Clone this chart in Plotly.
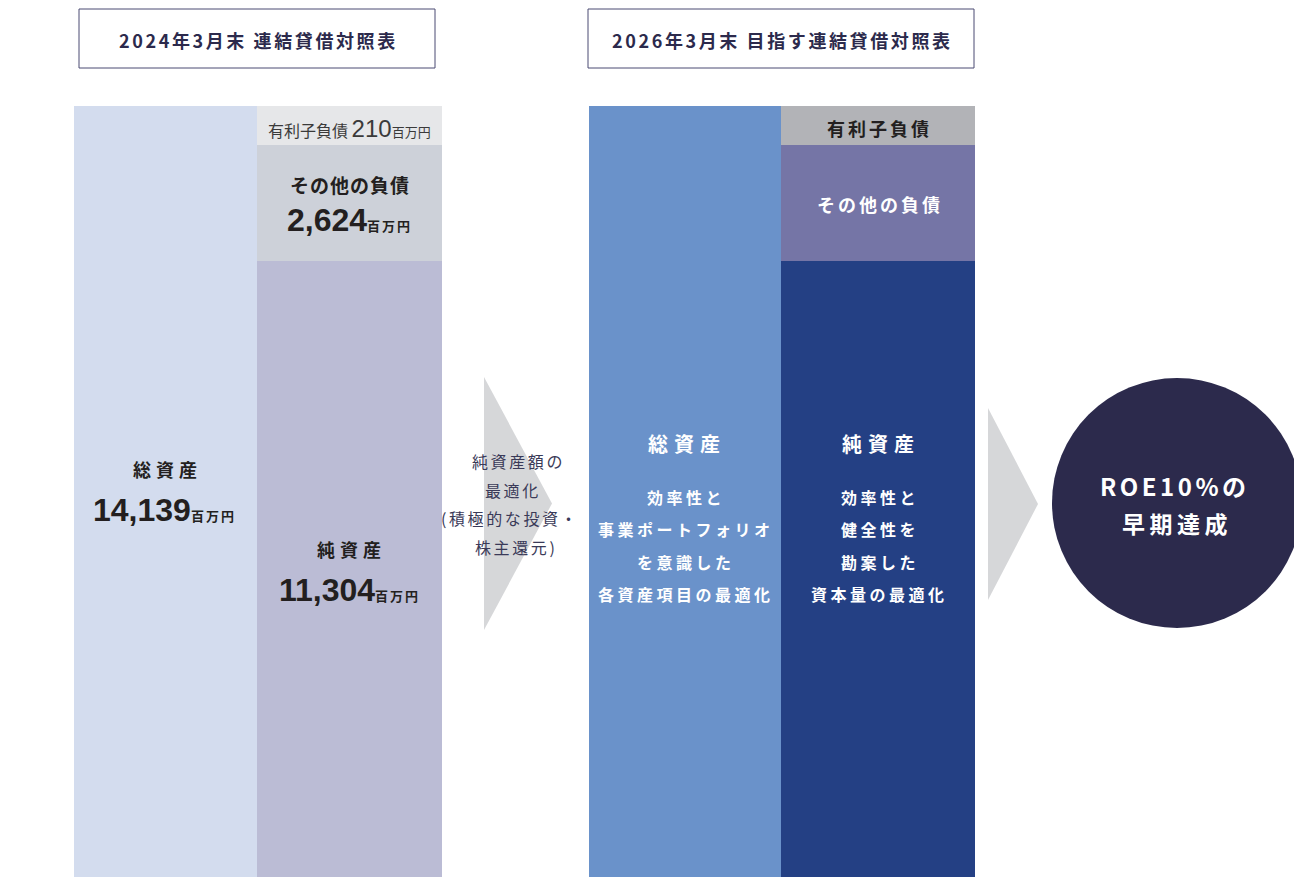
import plotly.graph_objects as go

# ---------------- data ----------------
items = ["総資産", "有利子負債", "その他の負債", "純資産"]
bs_2024 = [14139, 210, 2624, 11304]          # 百万円 (2024年3月末)
bs_2026 = [14139, 210, 2624, 11304]          # schematic target (same drawn heights)
header_2024 = "2024年3月末 連結貸借対照表"
header_2026 = "2026年3月末 目指す連結貸借対照表"
arrow_text = ["純資産額の", "最適化", "(積極的な投資・", "株主還元)"]
desc_assets = ["効率性と", "事業ポートフォリオ", "を意識した", "各資産項目の最適化"]
desc_equity = ["効率性と", "健全性を", "勘案した", "資本量の最適化"]
goal_text = ["ROE10%の", "早期達成"]
unit = "百万円"

# ---------------- layout constants ----------------
W, H = 1294, 877
TOP_PX = 106                      # top of the balance-sheet bars
Y_MAX = bs_2024[0] * H / (H - TOP_PX)
LABEL_BAND = 0.0506               # share of total drawn for 有利子負債 (enlarged for label)
FONT = "Noto Sans CJK JP"
NUMFONT = "Liberation Sans"

C24 = dict(assets="#D3DCEE", debt="#E6E7E9", other="#CDD1D9", equity="#BBBCD5")
C26 = dict(assets="#6A92CA", debt="#B2B3B7", other="#7575A6", equity="#244084")
NAVY = "#2C2A4C"

cols = {
    "2024": dict(left=(74, 257), right=(257, 442), data=bs_2024, c=C24),
    "2026": dict(left=(589, 781), right=(781, 975), data=bs_2026, c=C26),
}


def px(x):
    return x / W


def py(y):
    return 1 - y / H


fig = go.Figure()

for key, col in cols.items():
    total, debt, other, equity = col["data"]
    band = total * LABEL_BAND
    lx0, lx1 = col["left"]
    rx0, rx1 = col["right"]
    c = col["c"]
    # total assets column
    fig.add_trace(go.Bar(
        x=[(lx0 + lx1) / 2], width=[lx1 - lx0], base=[0], y=[total],
        marker=dict(color=c["assets"], line=dict(width=0)),
        hoverinfo="skip", showlegend=False,
    ))
    # liabilities + net assets column
    bases = [0, equity, total - band]
    heights = [equity, total - band - equity, band]
    colors = [c["equity"], c["other"], c["debt"]]
    fig.add_trace(go.Bar(
        x=[(rx0 + rx1) / 2] * 3, width=[rx1 - rx0] * 3, base=bases, y=heights,
        marker=dict(color=colors, line=dict(width=0)),
        hoverinfo="skip", showlegend=False,
    ))

shapes = []
annotations = []


def sp(s, ls):
    return f"<span style='letter-spacing:{ls}px'>{s}</span>" if ls else s


def text(x, y, s, size, color, bold=False, ls=0, family=FONT):
    s = sp(s, ls)
    if bold:
        s = f"<b>{s}</b>"
    annotations.append(dict(
        x=px(x + ls / 2), y=py(y), xref="paper", yref="paper", text=s, showarrow=False,
        xanchor="center", yanchor="middle",
        font=dict(family=family, size=size, color=color),
    ))


# header boxes
for (x0, x1), label in [((79, 435), header_2024), ((588, 974), header_2026)]:
    shapes.append(dict(type="rect", xref="paper", yref="paper",
                       x0=px(x0), x1=px(x1), y0=py(68), y1=py(9),
                       line=dict(color="#4A4A72", width=1), fillcolor="white"))
    text((x0 + x1) / 2, 40, label, 18, NAVY, bold=True, ls=2.6)

# arrows (triangles)
for (xl, yt, yb, xt) in [(484, 377, 630, 552), (988, 408, 600, 1038)]:
    ym = (yt + yb) / 2
    shapes.append(dict(type="path", xref="paper", yref="paper",
                       path=f"M {px(xl)} {py(yt)} L {px(xt)} {py(ym)} L {px(xl)} {py(yb)} Z",
                       fillcolor="#D6D7D9", line=dict(width=0), layer="below"))

# goal circle
shapes.append(dict(type="circle", xref="paper", yref="paper",
                   x0=px(1052), x1=px(1302), y0=py(628), y1=py(378),
                   fillcolor=NAVY, line=dict(width=0)))


def money(v, usize=13):
    return (f"<b><span style='font-family:{NUMFONT}'>{v:,}</span>"
            f"<span style='font-size:{usize}px;letter-spacing:2px'>{unit}</span></b>")


DARK = "#231F20"
t24, d24, o24, e24 = bs_2024
# 2024 labels
annotations.append(dict(
    x=px(349), y=py(128), xref="paper", yref="paper", showarrow=False,
    text=(f"{items[1]} <span style='font-size:24px;font-family:{NUMFONT}'>{d24}</span>"
          f"<span style='font-size:13px'>{unit}</span>"),
    font=dict(family=FONT, size=16, color="#3A3A3A"), xanchor="center", yanchor="middle"))
text(349, 184, items[2], 19, DARK, bold=True, ls=1)
text(349, 220, money(o24), 32, DARK)
text(165, 469, items[0], 18, DARK, bold=True, ls=5)
text(165, 510, money(t24), 32, DARK)
text(349, 549, items[3], 18, DARK, bold=True, ls=5)
text(349, 590, money(e24), 32, DARK)

# arrow text
arrow_x = [517, 512, 509, 515]
for i, line in enumerate(arrow_text):
    text(arrow_x[i], 461 + i * 28.7, line, 16, "#3A3A58", ls=2.6)

# 2026 labels
text(878, 128, items[1], 18, DARK, bold=True, ls=3)
text(878, 204, items[2], 18, "white", bold=True, ls=3)
text(684, 443, items[0], 20, "white", bold=True, ls=6)
text(878, 443, items[3], 20, "white", bold=True, ls=6)
for i, line in enumerate(desc_assets):
    text(684, 497 + i * 32.3, line, 16, "white", bold=True, ls=3.5)
for i, line in enumerate(desc_equity):
    text(878, 497 + i * 32.3, line, 16, "white", bold=True, ls=3.5)

# goal
text(1173, 485, goal_text[0], 24, "white", bold=True, ls=3.5)
text(1175, 523, goal_text[1], 23, "white", bold=True, ls=4.5)

fig.update_layout(
    width=W, height=H, margin=dict(l=0, r=0, t=0, b=0, pad=0),
    paper_bgcolor="white", plot_bgcolor="white",
    barmode="overlay", bargap=0,
    xaxis=dict(range=[0, W], visible=False, fixedrange=True),
    yaxis=dict(range=[0, Y_MAX], visible=False, fixedrange=True),
    shapes=shapes, annotations=annotations,
    font=dict(family=FONT),
)

fig.write_html("out.html")
